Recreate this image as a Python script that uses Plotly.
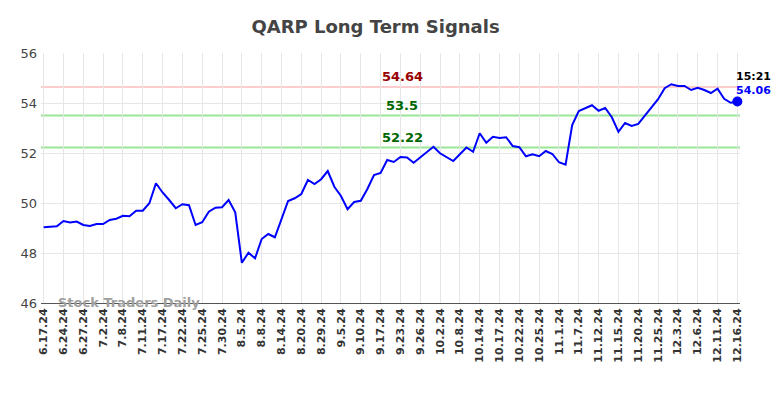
import plotly.graph_objects as go

tick_labels = ["6.17.24", "6.24.24", "6.27.24", "7.2.24", "7.8.24", "7.11.24", "7.17.24",
               "7.22.24", "7.25.24", "7.30.24", "8.5.24", "8.8.24", "8.14.24", "8.20.24",
               "8.29.24", "9.5.24", "9.10.24", "9.17.24", "9.23.24", "9.26.24", "10.2.24",
               "10.8.24", "10.14.24", "10.17.24", "10.22.24", "10.25.24", "11.1.24", "11.7.24",
               "11.12.24", "11.15.24", "11.20.24", "11.25.24", "12.3.24", "12.6.24",
               "12.11.24", "12.16.24"]

prices = [49.03, 49.05, 49.07, 49.28, 49.22, 49.26, 49.12, 49.08, 49.16, 49.16,
          49.32, 49.37, 49.49, 49.47, 49.69, 49.69, 49.99, 50.79, 50.42, 50.12,
          49.79, 49.95, 49.91, 49.12, 49.23, 49.65, 49.81, 49.83, 50.12, 49.63,
          47.61, 48.01, 47.79, 48.56, 48.76, 48.63, 49.32, 50.08, 50.19, 50.36,
          50.92, 50.76, 50.95, 51.28, 50.65, 50.28, 49.75, 50.04, 50.09, 50.56,
          51.12, 51.20, 51.72, 51.64, 51.84, 51.82, 51.61, 51.82, 52.04, 52.25,
          51.99, 51.83, 51.68, 51.95, 52.22, 52.05, 52.79, 52.41, 52.65, 52.60,
          52.63, 52.28, 52.23, 51.87, 51.95, 51.87, 52.08, 51.96, 51.63, 51.53,
          53.12, 53.68, 53.80, 53.91, 53.69, 53.80, 53.43, 52.85, 53.20, 53.08,
          53.16, 53.48, 53.80, 54.15, 54.59, 54.75, 54.68, 54.68, 54.52, 54.61,
          54.52, 54.40, 54.57, 54.17, 54.01, 54.06]

points_per_tick = 3
signal_levels = [54.64, 53.5, 52.22]
signal_colors = ["#ffcccc", "#99e699", "#99e699"]
signal_text_colors = ["#990000", "#006600", "#006600"]
last_time = "15:21"

x = list(range(len(prices)))
tickvals = [i * points_per_tick for i in range(len(tick_labels))]

font = "DejaVu Sans, Verdana, sans-serif"

fig = go.Figure()
fig.add_trace(go.Scatter(x=x, y=prices, mode="lines",
                         line=dict(color="#0000ff", width=2), hoverinfo="skip"))
fig.add_trace(go.Scatter(x=[x[-1]], y=[prices[-1]], mode="markers", cliponaxis=False,
                         marker=dict(color="#0000ff", size=10), hoverinfo="skip"))

for lvl, c in zip(signal_levels, signal_colors):
    fig.add_shape(type="line", xref="paper", x0=0, x1=1, y0=lvl, y1=lvl,
                  line=dict(color=c, width=2), layer="below")

mid = 54.3
for lvl, tc in zip(signal_levels, signal_text_colors):
    fig.add_annotation(x=mid, y=lvl, text=f"<b>{lvl:g}</b>", showarrow=False,
                       yanchor="bottom", yshift=1, font=dict(size=13, color=tc, family=font))

fig.add_annotation(x=x[-1], y=prices[-1], text=f"<b>{last_time}</b>", showarrow=False,
                   xanchor="center", yanchor="bottom", xshift=16, yshift=17,
                   font=dict(size=11, color="#000000", family=font))
fig.add_annotation(x=x[-1], y=prices[-1], text=f"<b>{prices[-1]:.2f}</b>", showarrow=False,
                   xanchor="center", yanchor="bottom", xshift=16, yshift=3,
                   font=dict(size=11, color="#0000ff", family=font))

fig.add_annotation(xref="paper", yref="y", x=0.021, y=46, text="<b>Stock Traders Daily</b>",
                   showarrow=False, xanchor="left", yanchor="middle", yshift=1,
                   font=dict(size=13, color="#a0a0a0", family=font))

fig.update_layout(
    width=784, height=398,
    margin=dict(l=31, r=52, t=45, b=103),
    paper_bgcolor="white", plot_bgcolor="white",
    showlegend=False,
    title=dict(text="<b>QARP Long Term Signals</b>", x=0.4786, xref="paper", xanchor="center",
               y=1 - 19 / 398, yref="container", yanchor="middle",
               font=dict(size=18, color="#444444", family=font)),
    font=dict(family=font),
)
fig.update_xaxes(range=[-0.4, len(prices) - 1 + 0.4], tickmode="array", tickvals=tickvals,
                 ticktext=[f"<b>{t}</b>" for t in tick_labels], tickangle=-90,
                 tickfont=dict(size=11, color="#333333", family=font),
                 showgrid=True, gridcolor="#e6e6e6", gridwidth=1,
                 showline=True, linecolor="#555555", linewidth=1, zeroline=False)
fig.update_yaxes(range=[46, 56], dtick=2, tickfont=dict(size=13, color="#444444", family=font),
                 showgrid=True, gridcolor="#e6e6e6", gridwidth=1, zeroline=False,
                 ticks="", ticklabelstandoff=3)

fig.write_html("out.html")
